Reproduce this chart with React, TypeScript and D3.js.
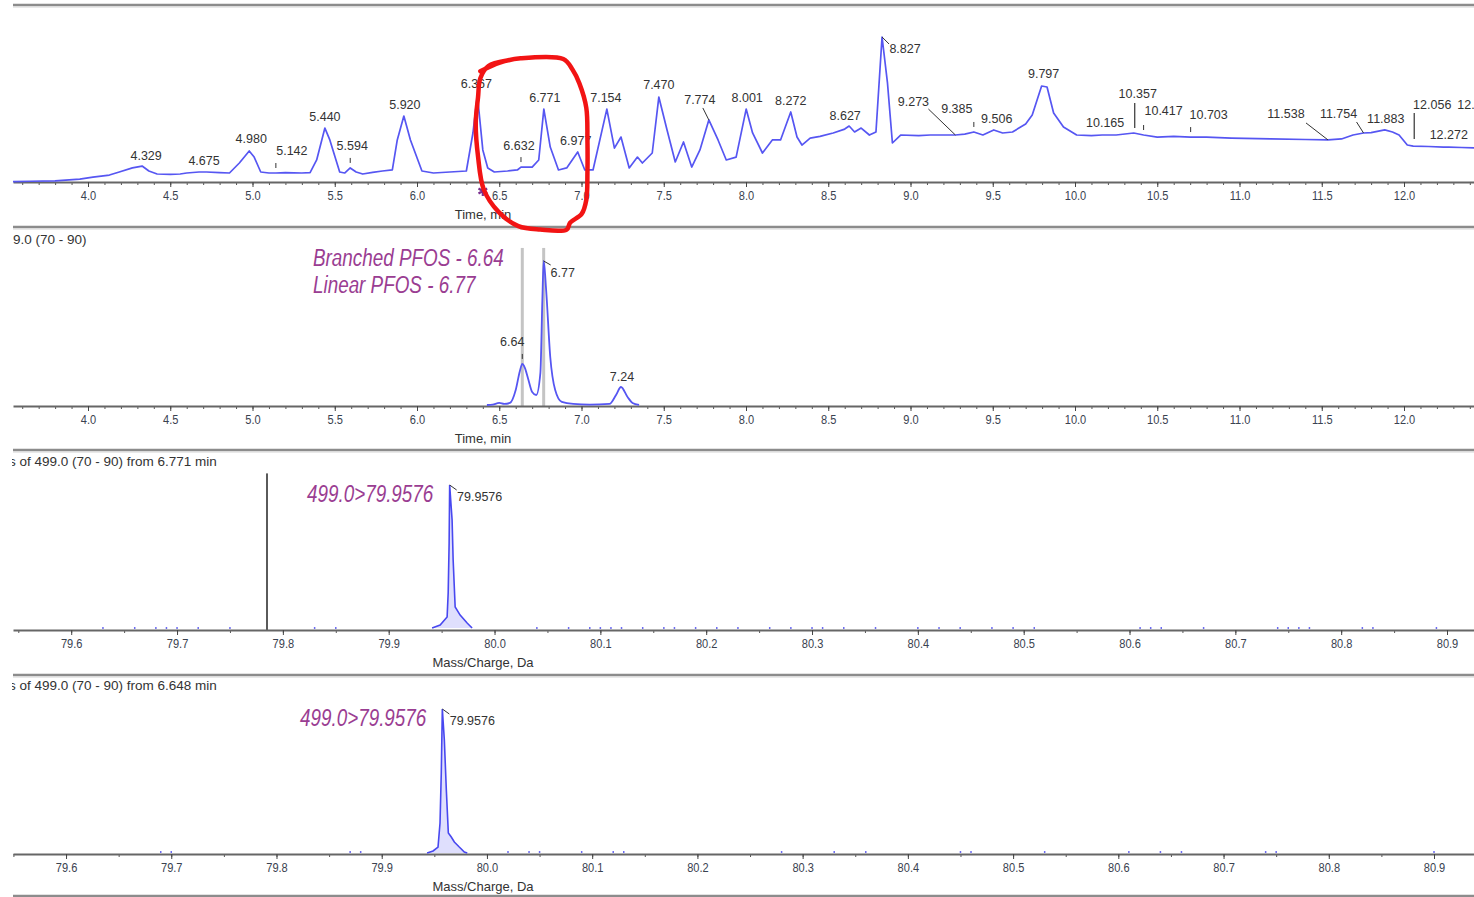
import { useRef, useEffect } from "react";
import * as d3 from "d3";

// ---- TIC (top panel) ----
const ticTime = [
  3.544, 3.65, 3.8, 3.95, 4.03, 4.13, 4.19, 4.27, 4.329, 4.37, 4.42, 4.5, 4.56, 4.6, 4.675, 4.72, 4.8, 4.86, 4.92,
  4.98, 5.01, 5.05, 5.1, 5.142, 5.2, 5.3, 5.35, 5.39, 5.44, 5.47, 5.53, 5.56, 5.594, 5.63, 5.67, 5.73, 5.79, 5.85,
  5.88, 5.92, 5.96, 6.03, 6.1, 6.2, 6.3, 6.34, 6.367, 6.4, 6.43, 6.47, 6.55, 6.61, 6.632, 6.7, 6.74, 6.771, 6.81,
  6.86, 6.91, 6.977, 7.02, 7.07, 7.154, 7.2, 7.24, 7.29, 7.34, 7.37, 7.43, 7.47, 7.52, 7.57, 7.62, 7.67, 7.72,
  7.774, 7.83, 7.88, 7.94, 8.001, 8.04, 8.1, 8.16, 8.21, 8.272, 8.31, 8.34, 8.39, 8.45, 8.53, 8.6, 8.627, 8.66,
  8.7, 8.75, 8.79, 8.827, 8.86, 8.89, 8.94, 9.05, 9.12, 9.24, 9.273, 9.33, 9.385, 9.44, 9.506, 9.56, 9.62, 9.7,
  9.74, 9.797, 9.83, 9.87, 9.93, 10.01, 10.1, 10.165, 10.25, 10.357, 10.417, 10.5, 10.6, 10.703, 10.8, 10.95,
  11.19, 11.4, 11.538, 11.62, 11.69, 11.754, 11.8, 11.883, 11.93, 11.97, 12.02, 12.056, 12.15, 12.24, 12.272,
  12.35, 12.45,
];
const ticIntensity = [
  0.3, 0.5, 0.8, 2.0, 3.4, 4.8, 6.9, 9.7, 11.0, 7.6, 5.5, 5.2, 5.5, 6.2, 6.9, 6.9, 6.5, 6.2, 13.1,
  21.4, 17.2, 6.9, 6.2, 6.2, 6.5, 6.2, 6.5, 15.2, 37.2, 29.0, 6.9, 6.2, 9.7, 6.9, 5.5, 6.6, 7.6, 8.3,
  29.0, 45.5, 29.0, 7.6, 6.2, 6.9, 7.6, 33.8, 60.0, 22.1, 9.7, 6.9, 7.6, 8.3, 10.3, 10.3, 15.2, 50.3, 24.1,
  8.3, 9.7, 20.7, 8.3, 8.3, 50.3, 23.4, 31.0, 9.7, 17.2, 13.1, 20.0, 58.6, 35.9, 13.8, 27.6, 10.3, 22.1,
  42.8, 29.0, 15.2, 17.2, 50.3, 33.8, 20.0, 29.0, 29.0, 48.3, 31.0, 25.5, 30.3, 31.5, 33.8, 36.5, 38.6, 34.5,
  37.2, 32.4, 34.5, 100, 68.3, 26.9, 32.4, 32.0, 32.4, 32.4, 32.4, 33.0, 34.5, 32.4, 35.9, 33.8, 34.5, 40.0,
  46.2, 66.2, 65.5, 47.6, 37.9, 32.4, 32.0, 32.4, 32.4, 33.8, 32.4, 31.0, 31.5, 31.0, 31.0, 30.3,
  29.7, 29.3, 29.0, 29.7, 32.4, 33.8, 34.1, 35.9, 34.5, 32.4, 25.5, 24.8, 24.5, 24.1, 24.1,
  23.8, 23.4,
];
const ticPeakTimes = [
  4.329, 4.675, 4.98, 5.142, 5.44, 5.594, 5.92, 6.367, 6.632, 6.771, 6.977, 7.154, 7.47, 7.774, 8.001, 8.272,
  8.627, 8.827, 9.273, 9.385, 9.506, 9.797, 10.165, 10.357, 10.417, 10.703, 11.538, 11.754, 11.883, 12.056,
  12.272, 12.44,
];
// label placement for each peak label (same order as ticPeakTimes)
const ticLabelPlace = [
  { dx: 4, dy: -6 }, { dx: 5, dy: -7 }, { dx: 2, dy: -8 }, { dx: 16, dy: -18, mark: "tick" },
  { dx: 0, dy: -7 }, { dx: 2, dy: -18, mark: "tick" }, { dx: 1, dy: -7 }, { dx: -1, dy: -7 },
  { dx: -2, dy: -17, mark: "tick" }, { dx: 1, dy: -7 }, { dx: -2, dy: -7 }, { dx: -1, dy: -7 },
  { dx: 0, dy: -8 }, { dx: -9, dy: -16, mark: "leader", lx: -6, ly: -12 }, { dx: 1, dy: -7 }, { dx: 0, dy: -7 },
  { dx: -4, dy: -6 }, { dx: 23, dy: 16, mark: "leader", lx: 7, ly: 7 },
  { dx: -42, dy: -29, mark: "leader", lx: -27, ly: -26 }, { dx: -17, dy: -19, mark: "tick" },
  { dx: 3, dy: -7 }, { dx: 2, dy: -8 }, { dx: 3, dy: -8 }, { dx: 4, dy: -35, mark: "vline", v0: -5, v1: -30 },
  { dx: 20, dy: -20, mark: "tick" }, { dx: 18, dy: -18, mark: "tick" },
  { dx: -42, dy: -22, mark: "leader", lx: -22, ly: -17 }, { dx: -25, dy: -15, mark: "leader", lx: -7, ly: -11 },
  { dx: 1, dy: -7 }, { dx: 19, dy: -37, mark: "vline", v0: -7, v1: -33 }, { dx: 0, dy: -8 }, { dx: 0, dy: -39 },
];

// ---- XIC 499.0 -> 79.96 (second panel) ----
const xicTime = [
  6.425, 6.46, 6.5, 6.53, 6.565, 6.6, 6.625, 6.64, 6.655, 6.675, 6.7, 6.725, 6.75, 6.762, 6.77, 6.785, 6.81, 6.84,
  6.88, 6.95, 7.05, 7.17, 7.21, 7.24, 7.28, 7.31, 7.35,
];
const xicIntensity = [
  0.7, 1.0, 2.1, 1.4, 2.1, 11.0, 24.0, 29.0, 26.5, 19.0, 9.7, 7.6, 22.8, 73.1, 100, 80.0, 33.8, 11.0,
  2.8, 1.4, 1.0, 1.4, 7.6, 13.1, 6.2, 2.1, 0.7,
];
const xicPeakTimes = [6.64, 6.77, 7.24];
const xicLabelPlace = [
  { dx: -10, dy: -18, mark: "tick" },
  { dx: 19, dy: 16, mark: "leader", lx: 7, ly: 4 },
  { dx: 1, dy: -6 },
];
const xicMarkerTimes = [6.64, 6.77];
const xicNotes = ["Branched PFOS - 6.64", "Linear PFOS - 6.77"];
const xicTitle = "9.0 (70 - 90)";

// ---- product ion spectra ----
const specA_mz = [79.941, 79.9486, 79.9552, 79.9562, 79.9571, 79.9576, 79.9599, 79.9609, 79.9628, 79.9675, 79.9741, 79.9788];
const specA_int = [1.4, 3.4, 9.0, 25.5, 60.0, 100, 75.9, 48.3, 15.9, 10.3, 4.8, 1.4];
const specA_noise = [
  79.63, 79.66, 79.68, 79.69, 79.7, 79.72, 79.75, 79.83, 79.85, 80.04, 80.07, 80.09, 80.1, 80.11, 80.12, 80.14,
  80.16, 80.17, 80.19, 80.21, 80.23, 80.26, 80.28, 80.3, 80.31, 80.33, 80.36, 80.4, 80.42, 80.44, 80.47, 80.49,
  80.51, 80.61, 80.62, 80.63, 80.67, 80.74, 80.75, 80.76, 80.77, 80.82, 80.83, 80.89,
];
const specA_marker = 79.785;
const specB_mz = [79.9431, 79.9488, 79.9535, 79.9554, 79.9566, 79.9576, 79.9595, 79.9614, 79.9633, 79.9661, 79.969, 79.9737, 79.9785, 79.9813];
const specB_int = [0.7, 2.1, 4.8, 21.4, 55.9, 100, 78.6, 44.1, 14.5, 11.7, 8.3, 4.8, 1.4, 0.7];
const specB_noise = [
  79.69, 79.7, 79.87, 79.88, 80.02, 80.04, 80.05, 80.09, 80.12, 80.13, 80.28, 80.33, 80.36, 80.45, 80.46, 80.53,
  80.61, 80.64, 80.66, 80.74, 80.75, 80.9,
];
const specPeak = 79.9576;
const specNote = "499.0>79.9576";
const specTitles = ["s of 499.0 (70 - 90) from 6.771 min", "s of 499.0 (70 - 90) from 6.648 min"];

// hand-drawn highlight around the PFOS region of the TIC (in data units)
const highlight = { t0: 6.35, t1: 7.05, top: 86, bottom: -34 };
const highlightShape = [
  [0.05, 0.08], [0.22, 0.03], [0.4, 0.006], [0.77, 0.01], [0.85, 0.07], [0.91, 0.15], [0.97, 0.29],
  [0.98, 0.48], [0.98, 0.66], [0.97, 0.82], [0.93, 0.9], [0.83, 0.95], [0.8, 0.99], [0.57, 0.99],
  [0.38, 0.97], [0.21, 0.89], [0.08, 0.76], [0.03, 0.57], [0.01, 0.38], [0.03, 0.23], [0.05, 0.12],
  [0.12, 0.05], [0.27, 0.02],
];

const W = 1474;
const H = 897;
const LEFT = 13;
const PLOT_H = 145;
const FONT = "'Liberation Sans', Arial, sans-serif";
const NARROW = 0.82;
const TRACE = "#5656f2";
const NOTE = "#9a3d92";

function valueAt(ts, vs, t) {
  const i = d3.bisectLeft(ts, t);
  if (i <= 0) return vs[0];
  if (i >= ts.length) return vs[vs.length - 1];
  if (ts[i] === t) return vs[i];
  const f = (t - ts[i - 1]) / (ts[i] - ts[i - 1]);
  return vs[i - 1] + (vs[i] - vs[i - 1]) * f;
}

function addText(g, x, y, txt, opts: any = {}) {
  const sx = opts.narrow === false ? 1 : NARROW;
  return g
    .append("text")
    .attr("transform", `translate(${x},${y}) scale(${sx},1)`)
    .attr("text-anchor", opts.anchor || "middle")
    .attr("font-family", FONT)
    .attr("font-size", opts.size || 13)
    .attr("font-style", opts.italic ? "italic" : "normal")
    .attr("fill", opts.fill || "#333")
    .text(txt);
}

function drawAxis(g, x, axisY, major, minor, fmt, title) {
  g.append("g")
    .attr("transform", `translate(0,${axisY})`)
    .call(d3.axisBottom(x).tickValues(minor).tickSize(3).tickFormat(() => "").tickSizeOuter(0))
    .call((s) => s.select(".domain").remove())
    .selectAll("line")
    .attr("stroke", "#555");

  const ag = g
    .append("g")
    .attr("transform", `translate(0,${axisY})`)
    .call(d3.axisBottom(x).tickValues(major).tickSize(5).tickPadding(3).tickFormat(fmt).tickSizeOuter(0));
  ag.select(".domain").attr("stroke", "#666").attr("stroke-width", 2);
  ag.selectAll(".tick line").attr("stroke", "#444");
  ag.selectAll(".tick text")
    .attr("font-family", FONT)
    .attr("font-size", 13.5)
    .attr("fill", "#3a4250")
    .attr("transform", `scale(${NARROW},1)`);

  addText(g, 483, axisY + 37, title, { size: 13, fill: "#333", narrow: false });
}

function drawPeakLabels(g, x, y, ts, vs, peaks, place, fmt) {
  peaks.forEach((t, i) => {
    const p = place[i];
    const ax = x(t);
    const ay = y(valueAt(ts, vs, t));
    addText(g, ax + p.dx, ay + p.dy, fmt(t), { size: 12.5, fill: "#333", narrow: false });
    if (p.mark === "tick") {
      g.append("line").attr("x1", ax).attr("x2", ax).attr("y1", ay - 10).attr("y2", ay - 5).attr("stroke", "#333");
    } else if (p.mark === "vline") {
      g.append("line").attr("x1", ax + 1).attr("x2", ax + 1).attr("y1", ay + p.v0).attr("y2", ay + p.v1)
        .attr("stroke", "#333").attr("stroke-width", 1.2);
    } else if (p.mark === "leader") {
      g.append("line").attr("x1", ax).attr("y1", ay).attr("x2", ax + p.lx).attr("y2", ay + p.ly)
        .attr("stroke", "#333").attr("stroke-width", 1);
    }
  });
}

const App = () => {
  const svgRef = useRef(null);

  useEffect(() => {
    const svg = d3.select(svgRef.current);
    svg.selectAll("*").remove();

    const defs = svg.append("defs");
    defs.append("clipPath").attr("id", "plotClip").append("rect")
      .attr("x", LEFT).attr("y", 0).attr("width", W - LEFT).attr("height", H);

    // panel frames
    [5, 227, 450, 675, 896].forEach((yy) => {
      svg.append("line").attr("x1", LEFT).attr("x2", W).attr("y1", yy).attr("y2", yy)
        .attr("stroke", "#8c8c8c").attr("stroke-width", 2.5);
      svg.append("line").attr("x1", LEFT).attr("x2", W).attr("y1", yy + 2).attr("y2", yy + 2)
        .attr("stroke", "#d4d4d4").attr("stroke-width", 1);
    });

    // ---------- Panel 1: TIC ----------
    const p1 = svg.append("g");
    const axis1 = 182;
    const xT1 = d3.scaleLinear().domain([3.544, 12.4255]).range([LEFT, W]);
    const y1 = d3.scaleLinear().domain([0, 100]).range([axis1, axis1 - PLOT_H]);
    const timeMajor = d3.range(8, 25).map((d) => d / 2);
    const timeMinor = d3.range(36, 125).map((d) => d / 10);
    drawAxis(p1, xT1, axis1, timeMajor, timeMinor, d3.format(".1f"), "Time, min");
    const line1 = d3.line<number>().x((d, i) => xT1(ticTime[i])).y((d) => y1(d));
    p1.append("path").attr("clip-path", "url(#plotClip)").attr("d", line1(ticIntensity))
      .attr("fill", "none").attr("stroke", TRACE).attr("stroke-width", 1.7).attr("stroke-linejoin", "round");
    drawPeakLabels(p1, xT1, y1, ticTime, ticIntensity, ticPeakTimes, ticLabelPlace, d3.format(".3f"));
    // small purple marker on the time axis
    p1.append("path").attr("d", d3.symbol(d3.symbolAsterisk, 70)())
      .attr("transform", `translate(${xT1(6.4)},${axis1 + 9})`)
      .attr("fill", "none").attr("stroke", "#7a2f8f").attr("stroke-width", 2.2);

    // ---------- Panel 2: XIC ----------
    const p2 = svg.append("g");
    const axis2 = 406;
    const y2 = d3.scaleLinear().domain([0, 100]).range([axis2, axis2 - PLOT_H]);
    addText(p2, LEFT, 244, xicTitle, { size: 13.5, anchor: "start", fill: "#333", narrow: false });
    xicMarkerTimes.forEach((t) => {
      p2.append("line").attr("x1", xT1(t)).attr("x2", xT1(t)).attr("y1", y2(109)).attr("y2", axis2)
        .attr("stroke", "#c4c4c4").attr("stroke-width", 3);
    });
    drawAxis(p2, xT1, axis2, timeMajor, timeMinor, d3.format(".1f"), "Time, min");
    const line2 = d3.line<number>().x((d, i) => xT1(xicTime[i])).y((d) => y2(d)).curve(d3.curveMonotoneX);
    p2.append("path").attr("d", line2(xicIntensity)).attr("fill", "none").attr("stroke", TRACE)
      .attr("stroke-width", 1.8).attr("stroke-linejoin", "round");
    drawPeakLabels(p2, xT1, y2, xicTime, xicIntensity, xicPeakTimes, xicLabelPlace, d3.format(".2f"));
    xicNotes.forEach((n, i) => {
      addText(p2, 313, 266 + i * 27, n, { size: 23, anchor: "start", italic: true, fill: NOTE });
    });

    // ---------- Panels 3 & 4: spectra ----------
    const specs = [
      { axis: 630, domain: [79.545, 80.9255], mz: specA_mz, int: specA_int, noise: specA_noise, title: specTitles[0], noteX: 307, marker: specA_marker },
      { axis: 854, domain: [79.5496, 80.938], mz: specB_mz, int: specB_int, noise: specB_noise, title: specTitles[1], noteX: 300, marker: null },
    ];
    specs.forEach((s) => {
      const g = svg.append("g");
      const x = d3.scaleLinear().domain(s.domain).range([LEFT, W]);
      const y = d3.scaleLinear().domain([0, 100]).range([s.axis, s.axis - PLOT_H]);
      addText(g, 9, s.axis - 164, s.title, { size: 13.5, anchor: "start", fill: "#333", narrow: false });
      if (s.marker !== null) {
        g.append("line").attr("x1", x(s.marker)).attr("x2", x(s.marker)).attr("y1", y(108)).attr("y2", s.axis)
          .attr("stroke", "#5a5a5a").attr("stroke-width", 2);
      }
      const mzMajor = d3.range(796, 810).map((d) => d / 10);
      const mzMinor = d3.range(1591, 1619).map((d) => d / 20);
      drawAxis(g, x, s.axis, mzMajor, mzMinor, d3.format(".1f"), "Mass/Charge, Da");
      g.selectAll(".noise").data(s.noise).join("line").attr("class", "noise")
        .attr("x1", (d) => x(d)).attr("x2", (d) => x(d)).attr("y1", s.axis - 1).attr("y2", s.axis - 3)
        .attr("stroke", "#6b6bf0").attr("stroke-width", 1.5);
      const ln = d3.line<number>().x((d, i) => x(s.mz[i])).y((d) => y(d));
      g.append("path").attr("d", ln(s.int)).attr("fill", "#c9c9fb").attr("fill-opacity", 0.6)
        .attr("stroke", "#4848f0").attr("stroke-width", 1.6);
      const ax = x(specPeak);
      const ay = y(100);
      g.append("line").attr("x1", ax).attr("y1", ay).attr("x2", ax + 7).attr("y2", ay + 5).attr("stroke", "#333");
      addText(g, ax + 30, ay + 16, d3.format(".4f")(specPeak), { size: 12.5, fill: "#333", narrow: false });
      addText(g, s.noteX, ay + 17, specNote, { size: 23, anchor: "start", italic: true, fill: NOTE });
    });

    // mask the titles at the left frame edge
    svg.append("rect").attr("x", 0).attr("y", 0).attr("width", LEFT - 1).attr("height", H).attr("fill", "#fff");

    // ---------- hand-drawn red highlight ----------
    const hx = d3.scaleLinear().domain([0, 1]).range([xT1(highlight.t0), xT1(highlight.t1)]);
    const hy = d3.scaleLinear().domain([0, 1]).range([y1(highlight.top), y1(highlight.bottom)]);
    const hl = d3.line<number[]>().x((d) => hx(d[0])).y((d) => hy(d[1])).curve(d3.curveCatmullRom);
    svg.append("path").attr("d", hl(highlightShape)).attr("fill", "none").attr("stroke", "#f21414")
      .attr("stroke-width", 4.5).attr("stroke-linecap", "round").attr("stroke-linejoin", "round");
  }, []);

  return (
    <svg
      ref={svgRef}
      width={W}
      height={H}
      style={{ position: "absolute", left: 0, top: 0, background: "#fff" }}
    />
  );
};

export default App;
